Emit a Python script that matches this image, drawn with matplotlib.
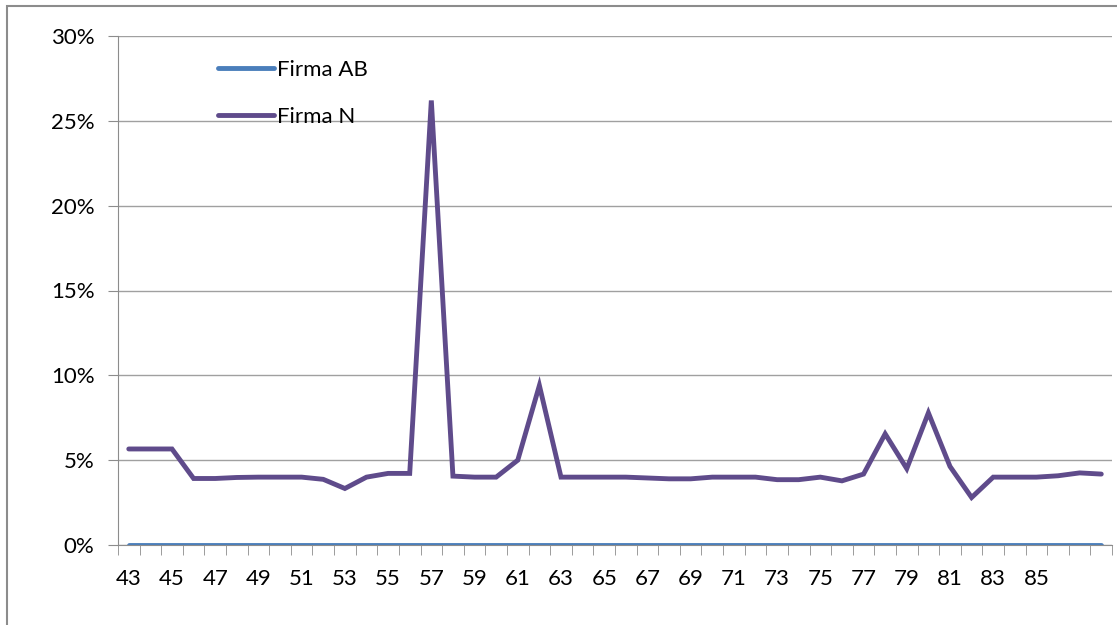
import matplotlib.pyplot as plt
from matplotlib.patches import Rectangle
from matplotlib.ticker import FuncFormatter, MultipleLocator, FixedLocator

plt.rcParams['font.family'] = ['Lato', 'DejaVu Sans']

# -- Data
ages = list(range(43, 89))
firma_ab = [0.0] * len(ages)
firma_n = [5.66, 5.66, 5.66, 3.92, 3.92, 3.98, 4.0, 4.0, 4.0, 3.87,
           3.33, 4.0, 4.22, 4.22, 26.2, 4.06, 4.0, 4.0, 5.0, 9.4,
           4.0, 4.0, 4.0, 4.0, 3.95, 3.9, 3.9, 4.0, 4.0, 4.0,
           3.85, 3.85, 4.0, 3.78, 4.18, 6.55, 4.5, 7.79, 4.63, 2.8,
           4.0, 4.0, 4.0, 4.08, 4.25, 4.18]
labels = ['Firma AB', 'Firma N']
colors = ['#4A7EBB', '#5F4B8B']

fig = plt.figure(figsize=(11.17, 6.25), dpi=100)
ax = fig.add_axes([0.1056, 0.128, 0.89, 0.8144])

ax.plot(ages, firma_ab, color=colors[0], lw=3.5, label=labels[0], solid_capstyle='round')
ax.plot(ages, firma_n, color=colors[1], lw=3.5, label=labels[1], solid_capstyle='round',
        solid_joinstyle='miter')

# -- Axes
ax.set_xlim(42.5, 88.5)
ax.set_ylim(0, 30)
ax.yaxis.set_major_locator(MultipleLocator(5))
ax.yaxis.set_major_formatter(FuncFormatter(lambda v, p: '%d%%' % v))
ax.xaxis.set_major_locator(FixedLocator(list(range(43, 87, 2))))
ax.xaxis.set_minor_locator(FixedLocator([a + 0.5 for a in range(42, 89)]))
ax.grid(axis='y', color='#A0A0A0', lw=1)
ax.set_axisbelow(True)
for s in ['top', 'right']:
    ax.spines[s].set_visible(False)
for s in ['left', 'bottom']:
    ax.spines[s].set_color('#8C8C8C')
ax.tick_params(axis='x', which='major', length=0, pad=17, labelsize=16)
ax.tick_params(axis='x', which='minor', length=7, color='#8C8C8C')
ax.tick_params(axis='y', length=7, color='#8C8C8C', pad=10, labelsize=16)

ax.legend(loc='upper left', bbox_to_anchor=(0.081, 0.992), frameon=False,
          fontsize=16, handlelength=2.5, handletextpad=0.12, labelspacing=1.2)

# -- Outer frame of the chart
fig.patches.append(Rectangle((7 / 1117, -0.1), 1.2, 1.1 - 6 / 625,
                             transform=fig.transFigure, fill=False,
                             edgecolor='#8C8C8C', lw=1.5))

fig.savefig('out.png', dpi=100)
